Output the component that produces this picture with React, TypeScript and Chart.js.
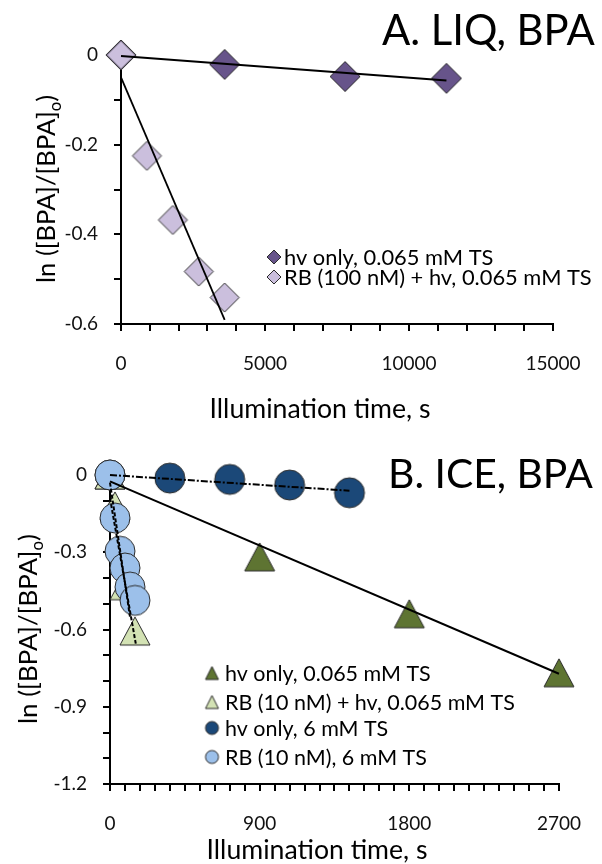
import React, { useEffect, useRef } from 'react';
import { Chart, registerables } from 'chart.js';

Chart.register(...registerables);

const FONT = 'Lato, "Open Sans", sans-serif';

// ---------- Panel A: LIQ, BPA ----------
const titleA = 'A. LIQ, BPA';
const timeA_hv = [0, 3600, 7780, 11300];
const lnA_hv = [0, -0.021, -0.048, -0.052];
const timeA_rb = [0, 900, 1800, 2700, 3600];
const lnA_rb = [0, -0.225, -0.368, -0.483, -0.541];
const fitA_hv_t = [0, 11300];
const fitA_hv_y = [-0.002, -0.057];
const fitA_rb_t = [0, 3600];
const fitA_rb_y = [-0.05, -0.591];
const legendA = ['hv only, 0.065 mM TS', 'RB (100 nM) + hv, 0.065 mM TS'];

// ---------- Panel B: ICE, BPA ----------
const titleB = 'B. ICE, BPA';
const timeB_hvLow = [0, 900, 1800, 2700];
const lnB_hvLow = [0, -0.318, -0.539, -0.768];
const timeB_rbLow = [0, 30, 90, 150];
const lnB_rbLow = [0, -0.12, -0.43, -0.606];
const timeB_hvHigh = [0, 360, 720, 1080, 1440];
const lnB_hvHigh = [0, -0.012, -0.017, -0.039, -0.069];
const timeB_rbHigh = [0, 30, 60, 90, 120, 150];
const lnB_rbHigh = [0, -0.167, -0.296, -0.361, -0.435, -0.487];
const fitB_hvLow_t = [0, 2700];
const fitB_hvLow_y = [-0.025, -0.772];
const fitB_rbLow_t = [0, 155];
const fitB_rbLow_y = [-0.09, -0.655];
const fitB_hvHigh_t = [0, 1440];
const fitB_hvHigh_y = [0, -0.061];
const fitB_rbHigh_t = [0, 120];
const fitB_rbHigh_y = [-0.03, -0.55];
const legendB = [
  'hv only, 0.065 mM TS',
  'RB (10 nM) + hv, 0.065 mM TS',
  'hv only, 6 mM TS',
  'RB (10 nM), 6 mM TS',
];

const axisTitleX = 'Illumination time, s';
const axisTitleYMain = 'ln ([BPA]/[BPA]';
const axisTitleYSub = 'o';
const axisTitleYEnd = ')';

// colours
const C_DARK_PURPLE = '#67548a';
const C_LIGHT_PURPLE = '#cbbfdd';
const C_DARK_GREEN = '#5e7432';
const C_LIGHT_GREEN = '#d3e2b4';
const C_DARK_BLUE = '#1b4878';
const C_LIGHT_BLUE = '#9cc0ea';
const C_EDGE = '#2b2b2b';

function pts(xs: number[], ys: number[]) {
  return xs.map((x, i) => ({ x, y: ys[i] }));
}

function makeMarker(shape: string, w: number, h: number, fill: string, stroke: string, lw = 1) {
  const pad = 2;
  const c = document.createElement('canvas');
  c.width = Math.round(w + pad * 2);
  c.height = Math.round(h + pad * 2);
  const ctx = c.getContext('2d')!;
  const cx = c.width / 2;
  const cy = c.height / 2;
  ctx.beginPath();
  if (shape === 'diamond') {
    ctx.moveTo(cx, cy - h / 2);
    ctx.lineTo(cx + w / 2, cy);
    ctx.lineTo(cx, cy + h / 2);
    ctx.lineTo(cx - w / 2, cy);
    ctx.closePath();
  } else if (shape === 'triangle') {
    ctx.moveTo(cx, cy - h / 2);
    ctx.lineTo(cx + w / 2, cy + h / 2);
    ctx.lineTo(cx - w / 2, cy + h / 2);
    ctx.closePath();
  } else {
    ctx.ellipse(cx, cy, w / 2, h / 2, 0, 0, Math.PI * 2);
  }
  ctx.fillStyle = fill;
  ctx.fill();
  ctx.strokeStyle = stroke;
  ctx.lineWidth = lw;
  ctx.stroke();
  return c;
}

function fitSize(ctx: CanvasRenderingContext2D, text: string, target: number) {
  ctx.font = `100px ${FONT}`;
  return (100 * target) / ctx.measureText(text).width;
}

interface PanelLayout {
  title: string;
  titleX: number;
  titleBase: number;
  titleW: number;
  xTitleCx: number;
  xTitleBase: number;
  xTitleW: number;
  yTitleBaseX: number;
  yTitleCy: number;
  yTitleW: number;
  legend: { text: string; marker: HTMLCanvasElement }[];
  legendMarkerX: number;
  legendTextX: number;
  legendY: number[];
  legendW: number;
  legendLongest: string;
}

function overlayPlugin(L: PanelLayout) {
  return {
    id: 'overlay',
    afterDraw(chart: any) {
      const ctx: CanvasRenderingContext2D = chart.ctx;
      ctx.save();
      ctx.fillStyle = '#000';
      // panel title
      const ts = fitSize(ctx, L.title, L.titleW);
      ctx.font = `${ts}px ${FONT}`;
      ctx.textAlign = 'left';
      ctx.textBaseline = 'alphabetic';
      ctx.fillText(L.title, L.titleX, L.titleBase);
      // x axis title
      const xs = fitSize(ctx, axisTitleX, L.xTitleW);
      ctx.font = `${xs}px ${FONT}`;
      ctx.textAlign = 'center';
      ctx.fillText(axisTitleX, L.xTitleCx, L.xTitleBase);
      // y axis title with subscript
      ctx.font = `100px ${FONT}`;
      const wm = ctx.measureText(axisTitleYMain).width;
      const we = ctx.measureText(axisTitleYEnd).width;
      ctx.font = `65px ${FONT}`;
      const wsub = ctx.measureText(axisTitleYSub).width;
      const ys = (100 * L.yTitleW) / (wm + we + wsub);
      const k = ys / 100;
      ctx.translate(L.yTitleBaseX, L.yTitleCy);
      ctx.rotate(-Math.PI / 2);
      ctx.textAlign = 'left';
      let x0 = -(L.yTitleW) / 2;
      ctx.font = `${ys}px ${FONT}`;
      ctx.fillText(axisTitleYMain, x0, 0);
      x0 += wm * k;
      ctx.font = `${ys * 0.65}px ${FONT}`;
      ctx.fillText(axisTitleYSub, x0, ys * 0.22);
      x0 += wsub * k;
      ctx.font = `${ys}px ${FONT}`;
      ctx.fillText(axisTitleYEnd, x0, 0);
      ctx.restore();

      // legend
      ctx.save();
      const ls = fitSize(ctx, L.legendLongest, L.legendW);
      ctx.font = `${ls}px ${FONT}`;
      ctx.fillStyle = '#000';
      ctx.textAlign = 'left';
      ctx.textBaseline = 'middle';
      L.legend.forEach((e, i) => {
        const m = e.marker;
        ctx.drawImage(m, L.legendMarkerX - m.width / 2, L.legendY[i] - m.height / 2);
        ctx.fillText(e.text, L.legendTextX, L.legendY[i] + 1);
      });
      ctx.restore();
    },
  };
}

function axisCommon(min: number, max: number, step: number, labelEvery: number, decimals: number, size: number) {
  return {
    type: 'linear',
    min,
    max,
    afterFit: undefined as any,
    ticks: {
      stepSize: step,
      autoSkip: false,
      maxRotation: 0,
      minRotation: 0,
      color: '#111',
      font: { family: FONT, size: 19 },
      padding: 16,
      callback: (v: number) => {
        const k = Math.round(v / step);
        if (k % labelEvery !== 0) return '';
        if (k === 0) return '0';
        return (k * step).toFixed(decimals);
      },
    },
    grid: { drawOnChartArea: false, drawTicks: true, tickLength: 7, color: '#000', lineWidth: 2 },
    border: { display: true, color: '#000', width: 2 },
  } as any;
}

function lineDS(xs: number[], ys: number[], dash: number[], width = 2) {
  return {
    type: 'line',
    data: pts(xs, ys),
    showLine: true,
    borderColor: '#000',
    borderWidth: width,
    borderDash: dash,
    pointRadius: 0,
    fill: false,
    order: 0,
    clip: false,
  } as any;
}

function scatterDS(xs: number[], ys: number[], marker: HTMLCanvasElement, order: number) {
  return {
    type: 'scatter',
    data: pts(xs, ys),
    pointStyle: marker,
    pointRadius: 15,
    showLine: false,
    order,
    clip: false,
  } as any;
}

function buildA(canvas: HTMLCanvasElement) {
  const mHv = makeMarker('diamond', 30, 30, C_DARK_PURPLE, C_EDGE);
  const mRb = makeMarker('diamond', 29, 29, C_LIGHT_PURPLE, C_EDGE);
  const lHv = makeMarker('diamond', 14, 14, C_DARK_PURPLE, C_EDGE);
  const lRb = makeMarker('diamond', 14, 14, C_LIGHT_PURPLE, C_EDGE);
  const x = axisCommon(0, 15000, 1000, 5, 0, 19);
  x.afterFit = (s: any) => { s.height = 108; };
  x.ticks.padding = 21;
  x.ticks.callback = (v: number) => (Math.round(v) % 5000 === 0 ? String(Math.round(v)) : '');
  const y = axisCommon(-0.6, 0, 0.1, 2, 1, 19);
  y.afterFit = (s: any) => { s.width = 121; };
  const layout: PanelLayout = {
    title: titleA, titleX: 382, titleBase: 45, titleW: 213,
    xTitleCx: 320, xTitleBase: 418, xTitleW: 221,
    yTitleBaseX: 55, yTitleCy: 189, yTitleW: 188,
    legend: [{ text: legendA[0], marker: lHv }, { text: legendA[1], marker: lRb }],
    legendMarkerX: 274, legendTextX: 284, legendY: [257, 277], legendW: 308, legendLongest: legendA[1],
  };
  return new Chart(canvas, {
    type: 'scatter',
    data: {
      datasets: [
        lineDS(fitA_hv_t, fitA_hv_y, []),
        lineDS(fitA_rb_t, fitA_rb_y, [], 1.8),
        scatterDS(timeA_rb, lnA_rb, mRb, 1),
        scatterDS(timeA_hv, lnA_hv, mHv, 2),
      ],
    },
    options: {
      animation: false,
      responsive: false,
      events: [],
      layout: { padding: { top: 55, right: 49, left: 0, bottom: 0 } },
      plugins: { legend: { display: false }, tooltip: { enabled: false }, title: { display: false } },
      scales: { x, y },
    },
    plugins: [overlayPlugin(layout)],
  } as any);
}

function buildB(canvas: HTMLCanvasElement) {
  const mHvL = makeMarker('triangle', 30, 28, C_DARK_GREEN, C_EDGE);
  const mRbL = makeMarker('triangle', 30, 28, C_LIGHT_GREEN, C_EDGE);
  const mHvH = makeMarker('circle', 30, 30, C_DARK_BLUE, C_EDGE);
  const mRbH = makeMarker('circle', 30, 30, C_LIGHT_BLUE, C_EDGE);
  const lHvL = makeMarker('triangle', 13, 13, C_DARK_GREEN, C_EDGE);
  const lRbL = makeMarker('triangle', 13, 13, C_LIGHT_GREEN, C_EDGE);
  const lHvH = makeMarker('circle', 13, 13, C_DARK_BLUE, C_EDGE);
  const lRbH = makeMarker('circle', 13, 13, C_LIGHT_BLUE, C_EDGE);
  const x = axisCommon(0, 2700, 90, 10, 0, 19);
  x.afterFit = (s: any) => { s.height = 80; };
  x.ticks.padding = 21;
  x.ticks.callback = (v: number) => (Math.round(v) % 900 === 0 ? String(Math.round(v)) : '');
  const y = axisCommon(-1.2, 0, 0.1, 3, 1, 19);
  y.afterFit = (s: any) => { s.width = 110; };
  const layout: PanelLayout = {
    title: titleB, titleX: 388, titleBase: 56, titleW: 205,
    xTitleCx: 317, xTitleBase: 427, xTitleW: 221,
    yTitleBaseX: 37, yTitleCy: 197, yTitleW: 190,
    legend: [
      { text: legendB[0], marker: lHvL },
      { text: legendB[1], marker: lRbL },
      { text: legendB[2], marker: lHvH },
      { text: legendB[3], marker: lRbH },
    ],
    legendMarkerX: 212, legendTextX: 225, legendY: [241, 270, 296, 325], legendW: 290, legendLongest: legendB[1],
  };
  return new Chart(canvas, {
    type: 'scatter',
    data: {
      datasets: [
        lineDS(fitB_hvLow_t, fitB_hvLow_y, []),
        lineDS(fitB_hvHigh_t, fitB_hvHigh_y, [7, 2, 2, 2]),
        lineDS(fitB_rbLow_t, fitB_rbLow_y, [4, 2]),
        lineDS(fitB_rbHigh_t, fitB_rbHigh_y, [4, 2]),
        scatterDS(timeB_rbHigh, lnB_rbHigh, mRbH, 1),
        scatterDS(timeB_hvHigh, lnB_hvHigh, mHvH, 2),
        scatterDS(timeB_rbLow, lnB_rbLow, mRbL, 3),
        scatterDS(timeB_hvLow, lnB_hvLow, mHvL, 4),
      ],
    },
    options: {
      animation: false,
      responsive: false,
      events: [],
      layout: { padding: { top: 43, right: 33, left: 0, bottom: 0 } },
      plugins: { legend: { display: false }, tooltip: { enabled: false }, title: { display: false } },
      scales: { x, y },
    },
    plugins: [overlayPlugin(layout)],
  } as any);
}

export default function App() {
  const refA = useRef<HTMLCanvasElement>(null);
  const refB = useRef<HTMLCanvasElement>(null);
  useEffect(() => {
    const a = buildA(refA.current!);
    const b = buildB(refB.current!);
    return () => {
      a.destroy();
      b.destroy();
    };
  }, []);
  return (
    <div style={{ position: 'absolute', left: 0, top: 0, width: 602, height: 864, background: '#fff' }}>
      <canvas ref={refA} width={602} height={432} style={{ display: 'block', width: 602, height: 432 }} />
      <canvas ref={refB} width={602} height={432} style={{ display: 'block', width: 602, height: 432 }} />
    </div>
  );
}
